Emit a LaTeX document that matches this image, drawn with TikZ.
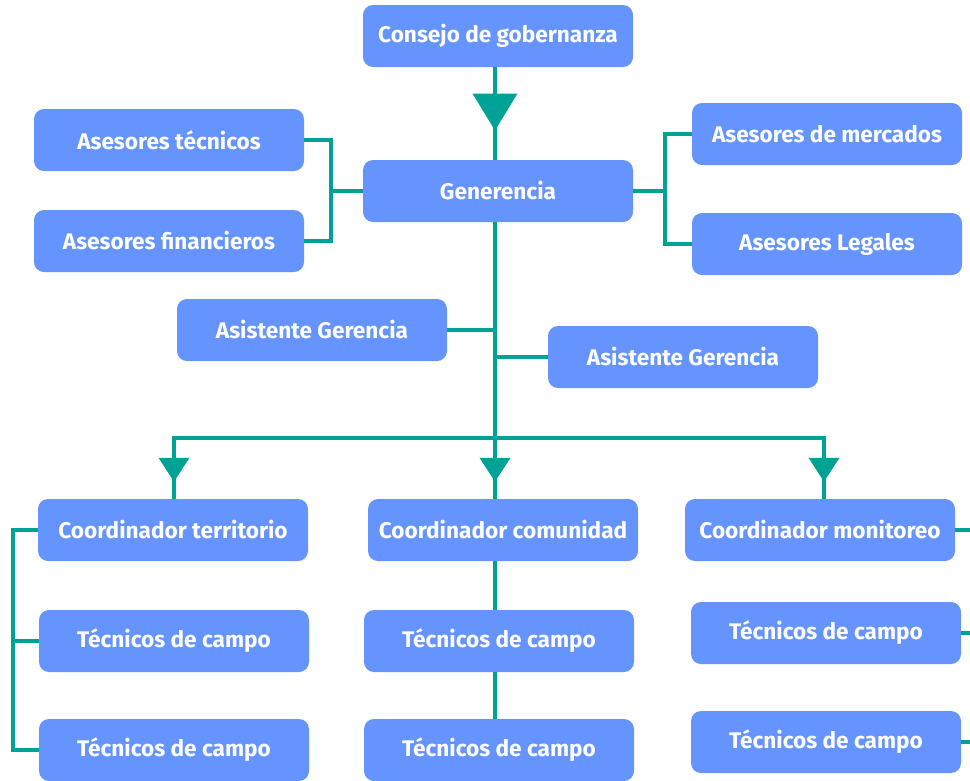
\documentclass[tikz,border=0pt]{standalone}
\usepackage{fontspec}
\setmainfont{Fira Sans}
\usetikzlibrary{arrows.meta,decorations.markings}
\definecolor{boxblue}{RGB}{101,148,254}
\definecolor{linkteal}{RGB}{0,162,150}
\tikzset{
  orgbox/.style={draw=none, fill=boxblue, rounded corners=10pt, minimum width=270pt, minimum height=62pt, text=white, font=\fontsize{22.6}{26}\selectfont\bfseries, inner sep=0pt},
  link/.style={draw=linkteal, line width=4pt},
  bigmid/.style={postaction={decorate}, decoration={markings, mark=at position #1 with {\arrow[linkteal]{Triangle[width=44pt,length=37pt]}}}},
  smallmid/.style={postaction={decorate}, decoration={markings, mark=at position #1 with {\arrow[linkteal]{Triangle[width=30pt,length=24pt]}}}}
}
\begin{document}
\begin{tikzpicture}[x=1pt,y=-1pt]
\useasboundingbox (0,0) rectangle (970,780);
\node[orgbox] (cg) at (498,36) {Consejo de gobernanza};
\node[orgbox] (gen) at (498,191) {Generencia};
\node[orgbox] (at) at (169,140) {Asesores técnicos};
\node[orgbox] (af) at (169,241) {Asesores financieros};
\node[orgbox] (am) at (827,134) {Asesores de mercados};
\node[orgbox] (al) at (827,244) {Asesores Legales};
\node[orgbox] (ag1) at (312,330) {Asistente Gerencia};
\node[orgbox] (ag2) at (683,357) {Asistente Gerencia};
\node[orgbox] (ct) at (173,530) {Coordinador territorio};
\node[orgbox] (cc) at (503,530) {Coordinador comunidad};
\node[orgbox] (cm) at (820,530) {Coordinador monitoreo};
\node[orgbox] (t1) at (174,641) {Técnicos de campo};
\node[orgbox] (t2) at (174,750) {Técnicos de campo};
\node[orgbox] (t3) at (499,641) {Técnicos de campo};
\node[orgbox] (t4) at (499,750) {Técnicos de campo};
\node[orgbox] (t5) at (826,633) {Técnicos de campo};
\node[orgbox] (t6) at (826,742) {Técnicos de campo};
\coordinate (tr) at (495,438);
\coordinate (bl) at (174,438);
\coordinate (br) at (824,438);
\coordinate (lx) at (331,0);
\coordinate (rx) at (665,0);
\coordinate (lb) at (13,0);
\coordinate (re) at (970,0);
\draw[link, bigmid=0.684] (cg.south -| tr) -- (gen.north -| tr);
\draw[link] (at.east) -- (at.east -| lx) -- (af.east -| lx) -- (af.east);
\draw[link] (gen.west) -- (gen.west -| lx);
\draw[link] (am.west) -- (am.west -| rx) -- (al.west -| rx) -- (al.west);
\draw[link] (gen.east) -- (gen.east -| rx);
\draw[link] (gen.south -| tr) -- (tr);
\draw[link] (ag1.east) -- (ag1.east -| tr);
\draw[link] (ag2.west) -- (ag2.west -| tr);
\draw[link, line cap=rect] (bl) -- (br);
\draw[link, smallmid=0.72] (bl) -- (bl |- ct.north);
\draw[link, smallmid=0.72] (tr) -- (tr |- cc.north);
\draw[link, smallmid=0.72] (br) -- (br |- cm.north);
\draw[link] (cc.south -| tr) -- (t3.north -| tr);
\draw[link] (t3.south -| tr) -- (t4.north -| tr);
\draw[link] (ct.west) -- (ct.west -| lb) -- (t2.west -| lb) -- (t2.west);
\draw[link] (t1.west -| lb) -- (t1.west);
\draw[link] (cm.east) -- (cm.east -| re);
\draw[link] (t5.east) -- (t5.east -| re);
\draw[link] (t6.east) -- (t6.east -| re);
\end{tikzpicture}
\end{document}
